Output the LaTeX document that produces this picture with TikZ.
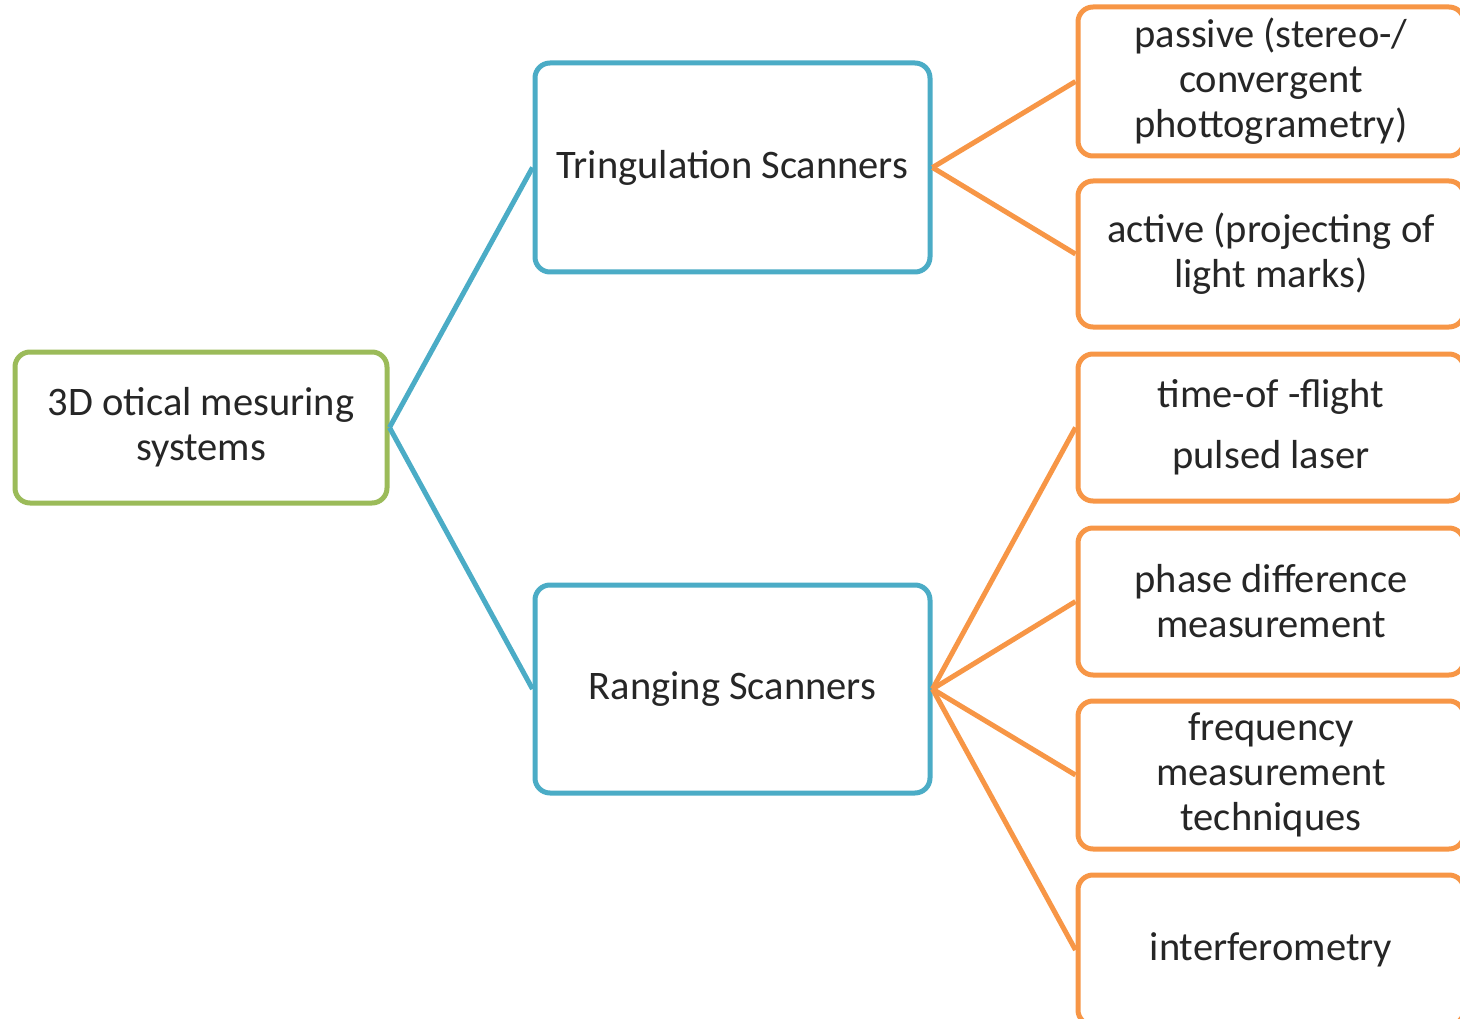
\documentclass[tikz,border=0pt]{standalone}
\usepackage{fontspec}
\setmainfont{Carlito}
\definecolor{cgreen}{HTML}{9BBB59}
\definecolor{cblue}{HTML}{4BACC6}
\definecolor{corange}{HTML}{F79646}
\definecolor{ctext}{HTML}{262626}
\begin{document}
\begin{tikzpicture}[x=1pt,y=-1pt,
  box/.style={draw, line width=5pt, rounded corners=15pt, fill=white, align=center, text=ctext, font=\fontsize{40.5}{45}\selectfont, inner sep=0pt},
  gbox/.style={box, draw=cgreen},
  bbox/.style={box, draw=cblue},
  obox/.style={box, draw=corange},
  bline/.style={cblue, line width=5pt},
  oline/.style={corange, line width=5pt}]
\useasboundingbox (0,0) rectangle (1460,1019);
% root
\node[gbox, minimum width=372pt, minimum height=151pt] (root) at (201,427.5) {3D otical mesuring\\systems};
\node[bbox, minimum width=395pt, minimum height=209pt] (tri) at (732.5,167.5) {Tringulation Scanners};
\node[bbox, minimum width=395pt, minimum height=208pt] (rng) at (732.5,689) {Ranging Scanners};
\node[obox, minimum width=386pt, minimum height=149pt] (p1) at (1271,81.5) {passive (stereo-/\\convergent\\phottogrametry)};
\node[obox, minimum width=386pt, minimum height=146pt] (p2) at (1271,254) {active (projecting of\\light marks)};
\node[obox, minimum width=386pt, minimum height=147pt] (r1) at (1271,427.5) {time-of -flight\\[16pt]pulsed laser};
\node[obox, minimum width=386pt, minimum height=147pt] (r2) at (1271,601.5) {phase difference\\measurement};
\node[obox, minimum width=386pt, minimum height=148pt] (r3) at (1271,775) {frequency\\measurement\\techniques};
\node[obox, minimum width=386pt, minimum height=150pt] (r4) at (1271,950) {interferometry};
% connectors
\draw[bline] (root.east) -- (tri.west);
\draw[bline] (root.east) -- (rng.west);
\draw[oline] (tri.east) -- (p1.west);
\draw[oline] (tri.east) -- (p2.west);
\draw[oline] (rng.east) -- (r1.west);
\draw[oline] (rng.east) -- (r2.west);
\draw[oline] (rng.east) -- (r3.west);
\draw[oline] (rng.east) -- (r4.west);
\end{tikzpicture}
\end{document}
